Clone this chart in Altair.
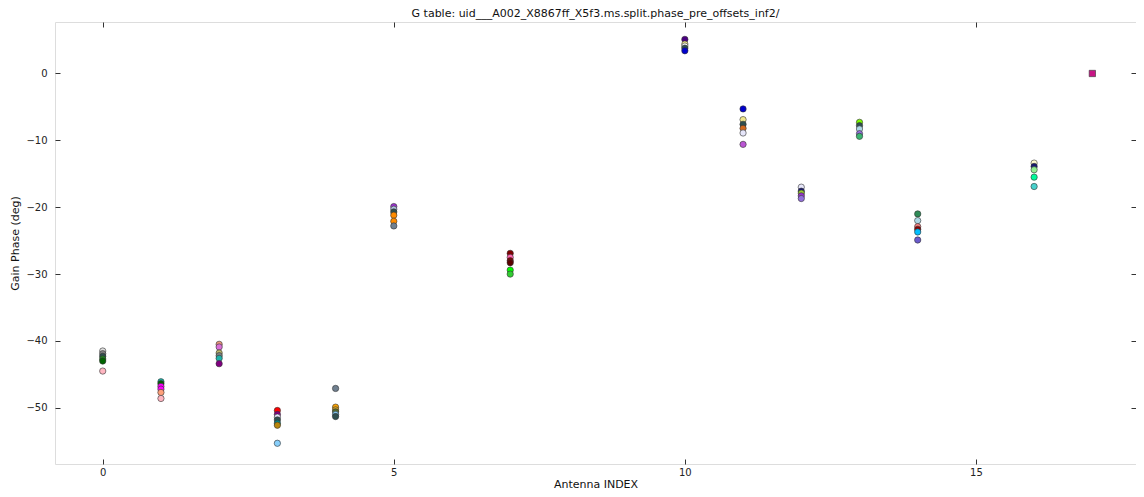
import altair as alt
import pandas as pd

# gain phase per antenna (one entry per solution)
ant_0 = [-41.5, -41.9, -42.3, -42.7, -43.0, -44.5]
col_0 = ["#e0e0e0", "#808080", "#2f4f4f", "#228b22", "#006400", "#ffb6c1"]
ant_1 = [-46.1, -46.4, -46.8, -47.2, -47.7, -48.6]
col_1 = ["#20b2aa", "#006400", "#ff00ff", "#ff00ff", "#ffa07a", "#ffb6c1"]
ant_2 = [-40.5, -40.9, -41.8, -42.2, -42.6, -43.4]
col_2 = ["#e9967a", "#da70d6", "#bdb76b", "#808080", "#20b2aa", "#800080"]
ant_3 = [-50.4, -51.0, -51.4, -51.8, -52.3, -52.6, -55.3]
col_3 = ["#ff0000", "#800080", "#e6e6fa", "#2f4f4f", "#008b8b", "#b8860b", "#87cefa"]
ant_4 = [-47.1, -49.9, -50.3, -50.6, -51.0, -51.3]
col_4 = ["#708090", "#ffa500", "#daa520", "#556b2f", "#87cefa", "#2f4f4f"]
ant_5 = [-19.9, -20.3, -20.7, -21.2, -22.1, -22.8]
col_5 = ["#9932cc", "#b0c4de", "#2f4f4f", "#ff8c00", "#ff8c00", "#708090"]
ant_7 = [-26.9, -27.5, -28.0, -28.3, -29.4, -30.0]
col_7 = ["#800000", "#ff69b4", "#8b0000", "#5b0000", "#00ff00", "#32cd32"]
ant_10 = [5.1, 4.4, 4.1, 3.8, 3.4]
col_10 = ["#4b0082", "#f0e68c", "#ffffff", "#2f4f4f", "#0000cd"]
ant_11 = [-5.3, -6.9, -7.6, -8.2, -8.9, -10.6]
col_11 = ["#0000cd", "#f0e68c", "#2f4f4f", "#d2691e", "#e6e6fa", "#ba55d3"]
ant_12 = [-17.0, -17.6, -17.9, -18.3, -18.7]
col_12 = ["#e6e6fa", "#191970", "#9acd32", "#9932cc", "#9370db"]
ant_13 = [-7.3, -7.8, -8.3, -9.0, -9.4]
col_13 = ["#7cfc00", "#2f4f4f", "#add8e6", "#9370db", "#3cb371"]
ant_14 = [-21.0, -22.0, -22.9, -23.3, -23.7, -24.9]
col_14 = ["#2e8b57", "#add8e6", "#f08080", "#8b0000", "#00bfff", "#6a5acd"]
ant_16 = [-13.4, -13.9, -14.4, -15.5, -16.9]
col_16 = ["#fffacd", "#191970", "#90ee90", "#00fa9a", "#48d1cc"]

# reference antenna
ref_ant = [17]
ref_phase = [0.0]
ref_color = ["#c71585"]

groups = [
    (0, ant_0, col_0), (1, ant_1, col_1), (2, ant_2, col_2), (3, ant_3, col_3),
    (4, ant_4, col_4), (5, ant_5, col_5), (7, ant_7, col_7), (10, ant_10, col_10),
    (11, ant_11, col_11), (12, ant_12, col_12), (13, ant_13, col_13),
    (14, ant_14, col_14), (16, ant_16, col_16),
]

rows = []
for a, vals, cols in groups:
    for v, c in zip(vals, cols):
        rows.append({"ant": a, "phase": v, "color": c})
df = pd.DataFrame(rows)
ref = pd.DataFrame({"ant": ref_ant, "phase": ref_phase, "color": ref_color})

FONT = "DejaVu Sans"
xscale = alt.Scale(domain=[-0.82, 17.75], nice=False, zero=False)
yscale = alt.Scale(domain=[-58.4, 7.7], nice=False, zero=False)

# inward ticks: shift the axis inside the frame and let ticks point back out
tick_kw = dict(domain=False, offset=-5, tickSize=5, tickColor="#333333",
               labelFont=FONT, labelFontSize=10, labelColor="#222222",
               titleFont=FONT, titleFontSize=11, titleFontWeight="normal",
               titleColor="#111111", grid=False)

points = alt.Chart(df).mark_point(
    shape="circle", filled=True, size=40, stroke="#333333", strokeWidth=0.6, opacity=1
).encode(
    x=alt.X("ant:Q", scale=xscale,
            axis=alt.Axis(title="Antenna INDEX", values=[0, 5, 10, 15],
                          labelPadding=3, titlePadding=1, **tick_kw)),
    y=alt.Y("phase:Q", scale=yscale,
            axis=alt.Axis(title="Gain Phase (deg)", values=[0, -10, -20, -30, -40, -50],
                          labelPadding=8, titlePadding=5, **tick_kw)),
    color=alt.Color("color:N", scale=None),
)

# reference antenna square, also carries the top/right tick axes
square = alt.Chart(ref).mark_point(
    shape="square", filled=True, size=40, stroke="#333333", strokeWidth=0.6, opacity=1
).encode(
    x=alt.X("ant:Q", scale=xscale,
            axis=alt.Axis(orient="top", title=None, labels=False, values=[0, 5, 10, 15],
                          domain=False, offset=-5, tickSize=5, tickColor="#333333", grid=False)),
    y=alt.Y("phase:Q", scale=yscale,
            axis=alt.Axis(orient="right", title=None, labels=False,
                          values=[0, -10, -20, -30, -40, -50],
                          domain=False, offset=-5, tickSize=5, tickColor="#333333", grid=False)),
    color=alt.Color("color:N", scale=None),
)

chart = alt.layer(points, square).resolve_axis(
    x="independent", y="independent"
).resolve_scale(
    x="shared", y="shared"
).properties(
    width=1081,
    height=442,
    title=alt.Title("G table: uid___A002_X8867ff_X5f3.ms.split.phase_pre_offsets_inf2/",
                    font=FONT, fontSize=11, fontWeight="normal", color="#111111",
                    anchor="middle", offset=3),
    autosize=alt.AutoSizeParams(type="none"),
    padding={"left": 47, "top": 14, "right": 0, "bottom": 25},
).configure_view(
    stroke="#222222", strokeWidth=1.2
).configure(background="white")

chart.save("out.html", embed_options={"renderer": "svg", "actions": False})
